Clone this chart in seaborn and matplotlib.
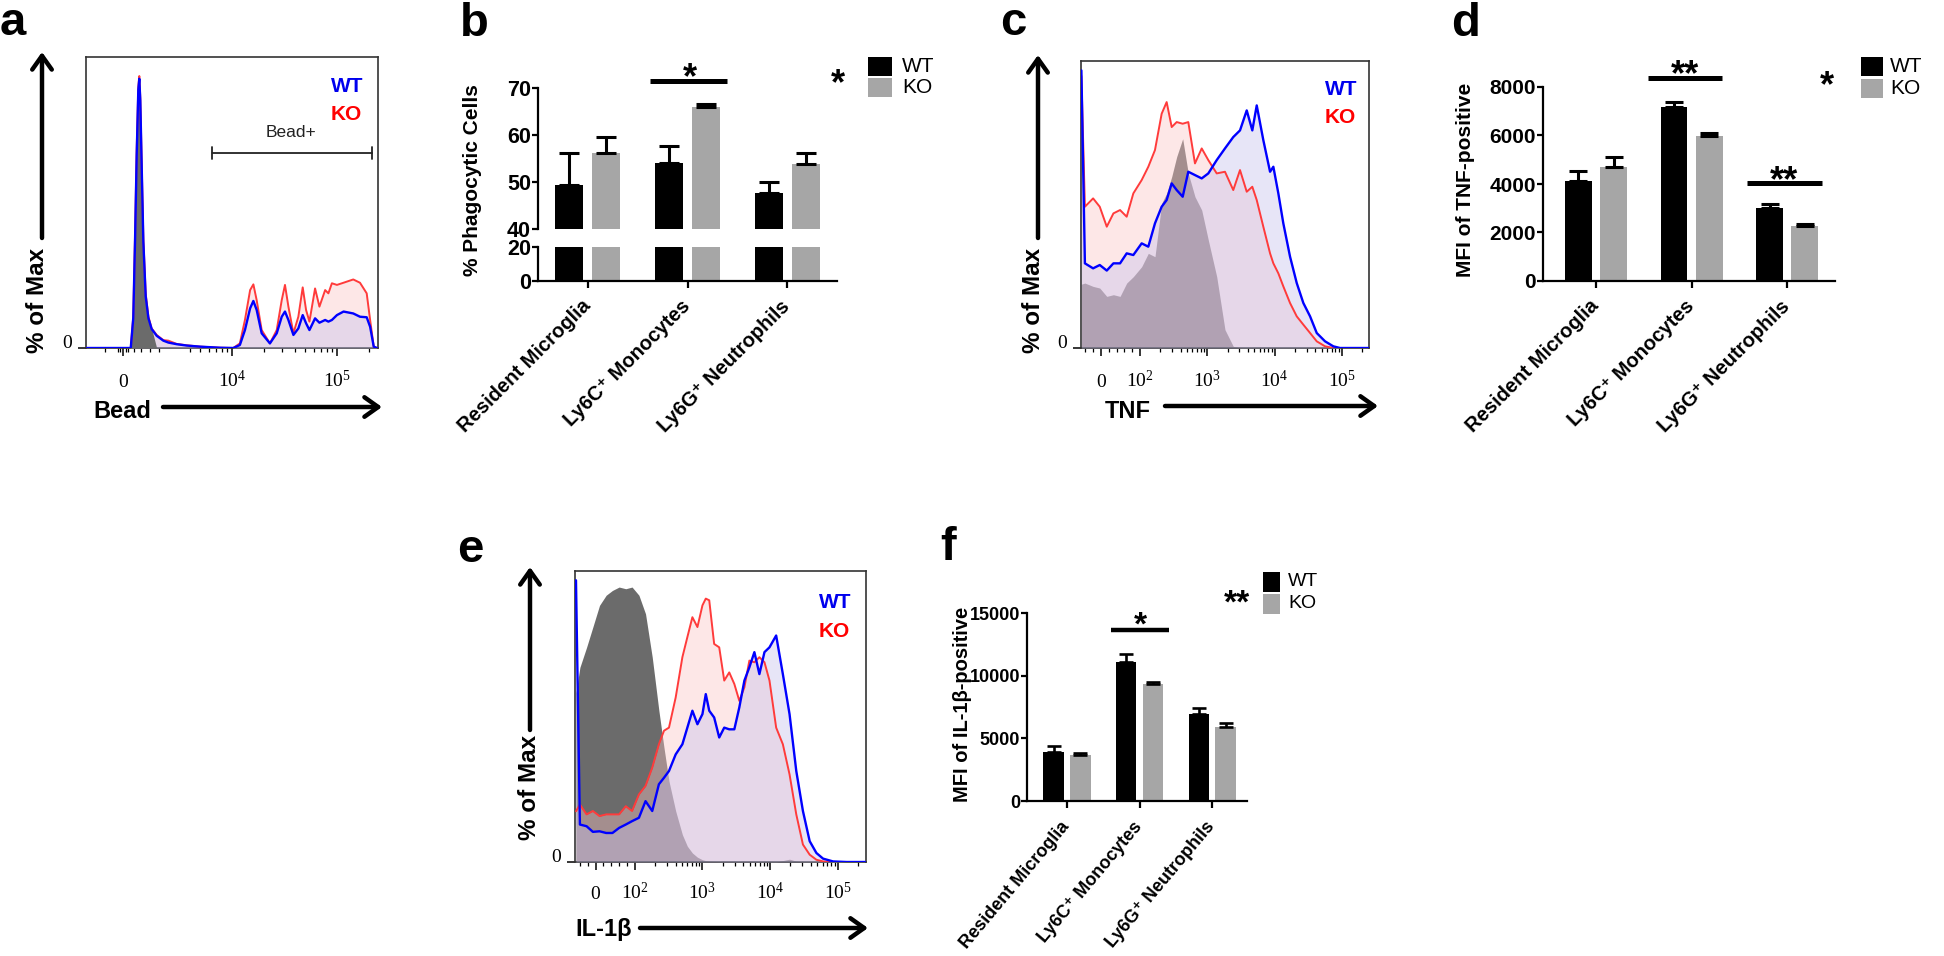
import numpy as np
import pandas as pd
import matplotlib
matplotlib.use('Agg')
import matplotlib.pyplot as plt
import seaborn as sns
from matplotlib.patches import Rectangle, FancyArrowPatch
from matplotlib.ticker import FixedLocator, NullFormatter, NullLocator

# ---------------- data: bar charts ----------------
cells = ['Resident Microglia', 'Ly6C\u207a Monocytes', 'Ly6G\u207a Neutrophils']
genotypes = ['WT', 'KO']

phago_wt = [49.4, 54.0, 47.7]
phago_wt_sem = [6.8, 3.7, 2.4]
phago_ko = [56.2, 65.9, 53.8]
phago_ko_sem = [3.4, 0.7, 2.4]

tnf_wt = [4120, 7190, 3020]
tnf_wt_sem = [400, 180, 150]
tnf_ko = [4690, 5980, 2280]
tnf_ko_sem = [440, 140, 55]

il1b_wt = [3930, 11070, 6920]
il1b_wt_sem = [480, 660, 530]
il1b_ko = [3670, 9340, 5930]
il1b_ko_sem = [185, 180, 270]

# ---------------- data: flow histograms (% of Max) ----------------
bead_x = [-2000, 200, 430, 570, 670, 760, 850, 905, 960, 1040, 1130, 1260, 1410, 1590, 1870,
          2240, 2520, 2980, 3710, 4970, 7700, 10300, 11900, 13300, 14900, 16000, 17200, 19200,
          23000, 26700, 29800, 32000, 34500, 38500, 42900, 47200, 50800, 54700, 61900, 68100,
          77200, 82900, 89500, 100000, 115600, 143000, 165700, 192000, 207000, 224000, 240000]
bead_ko = [0, 0, 0, 11.5, 42, 73, 96, 100, 92, 67, 40, 20, 11.5, 7.2, 4.8, 2.9, 2.7, 1.5, 1.0, 0.5,
           0.1, 0, 1.7, 10.3, 21.3, 23.4, 17.6, 6.6, 1.7, 6.6, 17.6, 23.2, 15.2, 5.4, 11.5, 22.3,
           14, 9.7, 21.9, 15.2, 21.3, 20.1, 23.8, 23.2, 24, 25.2, 24, 20.1, 10.3, 0.5, 0]
bead_wt = [0, 0, 0, 11, 40, 71, 95, 99, 91, 66, 39, 19, 11, 7, 4.5, 2.7, 2.0, 1.4, 0.9, 0.5,
           0.1, 0, 1.1, 6.6, 14.6, 17.3, 14, 5.4, 1.7, 5.4, 11.5, 13.4, 10.3, 4.8, 7.2, 12.1,
           9.1, 6.6, 10.9, 9.3, 10.3, 9.7, 10.3, 12.1, 13.4, 12.7, 11.5, 11.3, 7.8, 0.5, 0]
bead_ctrl = [0, 0, 0, 11.5, 42, 73, 96, 100, 92, 67, 40, 20, 11.5, 7.2, 0, 0, 0, 0, 0, 0,
             0, 0, 0, 0, 0, 0, 0, 0, 0, 0, 0, 0, 0, 0, 0, 0,
             0, 0, 0, 0, 0, 0, 0, 0, 0, 0, 0, 0, 0, 0, 0]
bead_gate = [6500, 216000]

tnf_x = [-50, -41, -20, -3, 15, 32, 49, 66, 83, 106, 133, 167, 210, 249, 296, 351, 431, 522,
         656, 826, 1035, 1380, 1830, 2430, 3060, 3850, 4660, 5420, 6790, 8550, 9570, 11350,
         13460, 16940, 21290, 26700, 33600, 42200, 56100, 74500, 93700, 131900, 246700]
tnf_wt_hist = [100, 30.5, 28.7, 29.9, 27.9, 30.5, 30.5, 34.1, 33.5, 37.7, 36.5, 44.9, 50.9,
               53.3, 59.3, 56.9, 54.5, 63.5, 62.3, 61.1, 62.9, 67.7, 71.9, 76, 78.4, 85.6, 78.4,
               87.4, 74.9, 63.5, 65.3, 55.7, 44.9, 32.9, 23.4, 16.2, 11.4, 5.4, 2.4, 0.6, 0, 0, 0]
tnf_ko_hist = [98, 50.9, 53.9, 50.9, 43.7, 48.5, 49.7, 47.3, 55.7, 60.5, 65.3, 71.3, 84.4,
               88.6, 79.6, 81.4, 80.8, 81.4, 66.5, 71.9, 67.7, 62.9, 63.5, 56.9, 64.1, 56.3, 58.1,
               53.3, 43.7, 34.1, 30.5, 26.9, 22.2, 16.2, 11.4, 8.4, 5.4, 2.4, 0.6, 0, 0, 0, 0]
tnf_ctrl_hist = [23, 23.4, 22.2, 21.6, 18.6, 19.2, 18.6, 23.4, 25.7, 29.3, 34.1, 32.9, 52.1,
                 55.7, 61.7, 68.9, 75.4, 62.9, 54.5, 49.7, 38.9, 25.7, 6.6, 0.6, 0, 0, 0, 0, 0,
                 0, 0, 0, 0, 0, 0, 0, 0, 0, 0, 0, 0, 0, 0]

il1b_x = [-50, -40, -23, -7, 10, 27, 43, 60, 77, 93, 115, 144, 181, 227, 270, 320, 402, 505,
          598, 710, 843, 1000, 1120, 1260, 1490, 1770, 2100, 2490, 2960, 3510, 4170, 4940, 5860,
          6950, 8260, 9800, 12300, 15450, 19400, 24400, 30600, 38500, 48400, 60700, 85500,
          135200, 252900]
il1b_wt_hist = [100, 13.3, 12.7, 10.7, 10.9, 10.3, 10.3, 12.1, 13.3, 14.5, 15.7, 21.6, 18.1,
                27.6, 29.9, 32.3, 38.2, 41.8, 47.7, 53.7, 48.9, 52.5, 59.6, 53.7, 51.3, 44.2, 47.7,
                47.1, 47.1, 54.9, 64.4, 69.1, 74.5, 66.7, 74.5, 76.2, 80.4, 66.7, 52.5, 32.3, 18.1,
                7.4, 3.2, 1.2, 0.2, 0, 0]
il1b_ko_hist = [18, 20.4, 16.9, 18.1, 16.3, 16.9, 16.9, 16.9, 19.8, 18.1, 24, 27, 33.5, 41.8,
                46.6, 47.7, 58.4, 72.7, 79.8, 86.9, 83.4, 91.1, 93.5, 92.9, 77.4, 76.2, 64.4, 67.3,
                63.2, 57.2, 62, 71.5, 70.9, 72.7, 70.9, 64.4, 47.7, 41.8, 31.1, 16.9, 6.2, 2.6, 0.8,
                0.2, 0, 0, 0]
il1b_ctrl_hist = [60, 69.1, 76.2, 83.4, 91.1, 94.7, 96.4, 97.6, 97, 97.6, 94.7, 88.1, 72.7, 53.7,
                  40.6, 28.7, 18.1, 9.7, 5.6, 3.2, 1.7, 0.8, 0.5, 0.3, 0.2, 0.1, 0, 0, 0, 0, 0,
                  0, 0, 0, 0, 0, 0, 0.5, 1.0, 0.3, 0, 0, 0, 0, 0, 0, 0]

ticks_a = [0, 1e4, 1e5]
ticklabels_a = ['0', r'$\mathdefault{10^{4}}$', r'$\mathdefault{10^{5}}$']
ticks_ce = [0, 1e2, 1e3, 1e4, 1e5]
ticklabels_ce = ['0', r'$\mathdefault{10^{2}}$', r'$\mathdefault{10^{3}}$',
                 r'$\mathdefault{10^{4}}$', r'$\mathdefault{10^{5}}$']

# ---------------- style ----------------
sns.set_theme(style='ticks', rc={'axes.edgecolor': 'black', 'xtick.color': 'black',
                                 'ytick.color': 'black', 'text.color': 'black',
                                 'axes.labelcolor': 'black'})
plt.rcParams['font.family'] = ['Liberation Sans', 'DejaVu Sans']

WT_BAR, KO_BAR = '#000000', '#a6a6a6'
WT_LINE, KO_LINE = '#0000ff', '#ff3b3b'
WT_FILL, KO_FILL = '#c5c0ed', '#fac5c5'
FILL_ALPHA = 0.4
CTRL_GREY = '#6b6b6b'

W, H = 1944, 956
fig = plt.figure(figsize=(W / 100, H / 100), dpi=100)
fig.patch.set_facecolor('white')


def box(l, t, r, b):
    return [l / W, 1 - b / H, (r - l) / W, (b - t) / H]


def P(x, y):
    return (x / W, 1 - y / H)


def ftext(x, y, s, **kw):
    fig.text(x / W, 1 - y / H, s, **kw)


def farrow(x0, y0, x1, y1):
    fig.add_artist(FancyArrowPatch(P(x0, y0), P(x1, y1), transform=fig.transFigure,
                                   arrowstyle='->,head_length=0.45,head_width=0.32',
                                   mutation_scale=22, lw=3.2, color='black',
                                   shrinkA=0, shrinkB=0))


def flow_panel(rect, x, ctrl, wt, ko, linthresh, linscale, xlim, ytop, ticks, ticklabels,
               minors, ctrl_on_top, label_pad):
    ax = fig.add_axes(box(*rect))
    ax.set_xscale('symlog', linthresh=linthresh, linscale=linscale)
    ax.fill_between(x, 0, ctrl, color=CTRL_GREY, lw=0, zorder=3.5 if ctrl_on_top else 1)
    ax.fill_between(x, 0, ko, color=KO_FILL, alpha=FILL_ALPHA, lw=0, zorder=2)
    ax.fill_between(x, 0, wt, color=WT_FILL, alpha=FILL_ALPHA, lw=0, zorder=3)
    sns.lineplot(x=x, y=ko, ax=ax, color=KO_LINE, lw=1.4, estimator=None, sort=False, zorder=4)
    sns.lineplot(x=x, y=wt, ax=ax, color=WT_LINE, lw=1.7, estimator=None, sort=False, zorder=5)
    ax.set_xlim(*xlim)
    ax.set_ylim(0, ytop)
    ax.set_xticks(ticks)
    ax.set_xticklabels(ticklabels, fontfamily='Liberation Serif', fontsize=14, va='baseline')
    ax.xaxis.set_minor_locator(FixedLocator(minors))
    ax.xaxis.set_minor_formatter(NullFormatter())
    ax.set_yticks([0])
    ax.set_yticklabels(['0'], fontfamily='Liberation Serif', fontsize=14, va='baseline')
    ax.yaxis.set_minor_locator(NullLocator())
    ax.tick_params(axis='x', which='major', length=6, width=1.1, pad=label_pad, direction='out')
    ax.tick_params(axis='x', which='minor', length=3, width=0.9, direction='out')
    ax.tick_params(axis='y', which='major', length=6, width=1.1, pad=4, direction='out')
    for s in ax.spines.values():
        s.set_linewidth(1.2)
        s.set_color('#333333')
    ax.set_xlabel('')
    ax.set_ylabel('')
    return ax


minors_a = [-1000, -300, -150, 150, 300, 600, 1000, 1500, 2000] + \
    [k * 10 ** d for d in (3, 4) for k in range(2, 10) if k * 10 ** d > 3000] + [2e5]
minors_ce = [-40, -20, 20, 40, 60, 80] + \
    [k * 10 ** d for d in (2, 3, 4) for k in range(2, 10)] + [2e5]

# ---------------- panel a ----------------
ax_a = flow_panel((86, 57, 378, 348), bead_x, bead_ctrl, bead_wt, bead_ko, 3000, 0.463,
                  (-2055, 2.46e5), 107, ticks_a, ticklabels_a, minors_a, True, 22)
ax_a.annotate('', xy=(bead_gate[0], 71.7), xytext=(bead_gate[1], 71.7),
              arrowprops=dict(arrowstyle='|-|,widthA=0.35,widthB=0.35', lw=1.3, color='#222222',
                              shrinkA=0, shrinkB=0))
ax_a.text(36500, 79.4, 'Bead+', ha='center', va='center', fontsize=12.5, color='#222222')

# ---------------- panel c ----------------
ax_c = flow_panel((1081, 61, 1369, 348), tnf_x, tnf_ctrl_hist, tnf_wt_hist, tnf_ko_hist, 100,
                  0.522, (-51, 2.52e5), 103.4, ticks_ce, ticklabels_ce, minors_ce, False, 22)

# ---------------- panel e ----------------
ax_e = flow_panel((575, 571, 866, 862), il1b_x, il1b_ctrl_hist, il1b_wt_hist, il1b_ko_hist, 100,
                  0.522, (-52.5, 2.62e5), 103.3, ticks_ce, ticklabels_ce, minors_ce, False, 20.5)

# flow annotations
for (xl, yc, ax0, ay0, ay1) in [(38, 300, 42, 238, 52), (1033, 300, 1038, 238, 55),
                                (529, 787, 530, 730, 567)]:
    ftext(xl, yc, '% of Max', rotation=90, ha='center', va='center', fontsize=17.5,
          fontweight='bold')
    farrow(ax0, ay0, ax0, ay1)
for (xl, yb, label, x0, x1, ya) in [(93, 418, 'Bead', 163, 382, 407),
                                    (1105, 418, 'TNF', 1165, 1378, 406),
                                    (575, 936, 'IL-1\u03b2', 640, 868, 928)]:
    ftext(xl, yb, label, ha='left', va='baseline', fontsize=17, fontweight='bold')
    farrow(x0, ya, x1, ya)
for (xl, yb1, yb2) in [(331, 92, 120), (1325, 95, 123), (819, 608, 637)]:
    ftext(xl, yb1, 'WT', ha='left', va='baseline', fontsize=15, fontweight='bold', color='#0000ee')
    ftext(xl, yb2, 'KO', ha='left', va='baseline', fontsize=15, fontweight='bold', color='#ff0000')


# ---------------- bar panels ----------------
def bar_panel(ax, wt, wt_sem, ko, ko_sem, capsize, elw, draw_err=True):
    df = pd.DataFrame({'cell': cells + cells,
                       'genotype': ['WT'] * 3 + ['KO'] * 3,
                       'value': wt + ko})
    sns.barplot(data=df, x='cell', y='value', hue='genotype', order=cells, hue_order=genotypes,
                palette={'WT': WT_BAR, 'KO': KO_BAR}, saturation=1, width=0.74, gap=0.24,
                errorbar=None, legend=False, linewidth=0, ax=ax)
    if draw_err:
        bars = sorted(ax.patches, key=lambda p: p.get_x())
        sems = [s for pair in zip(wt_sem, ko_sem) for s in pair]
        for p, s in zip(bars, sems):
            ax.errorbar(p.get_x() + p.get_width() / 2, p.get_height(), yerr=[[0], [s]],
                        fmt='none', ecolor='black', elinewidth=elw, capsize=capsize,
                        capthick=elw, zorder=3)
    ax.set_xlabel('')
    ax.set_ylabel('')
    for s in ['top', 'right']:
        ax.spines[s].set_visible(False)
    for s in ['left', 'bottom']:
        ax.spines[s].set_linewidth(1.6)
        ax.spines[s].set_color('black')


def set_yt(ax, ticks, fs):
    ax.set_yticks(ticks)
    ax.set_yticklabels([str(t) for t in ticks], fontsize=fs, fontweight='bold')
    ax.tick_params(axis='y', length=4, width=1.6, pad=1, direction='out')


def set_xt(ax, fs, rot, pad):
    ax.set_xticks(range(len(cells)))
    ax.set_xticklabels(cells, rotation=rot, ha='right', va='center', rotation_mode='anchor',
                       fontsize=fs, fontweight='bold')
    ax.tick_params(axis='x', length=5, width=1.6, pad=pad, direction='out')


def legend_box(x, y_top, w, h, gap, tx, fs):
    for i, (g, c) in enumerate([('WT', WT_BAR), ('KO', KO_BAR)]):
        y0 = y_top + i * (h + gap)
        fig.add_artist(Rectangle(P(x, y0 + h), w / W, h / H, transform=fig.transFigure,
                                 facecolor=c, edgecolor='none'))
        ftext(tx, y0 + h / 2, g, ha='left', va='center', fontsize=fs)


def star(x, y_center, s, fs=26):
    ftext(x, y_center + 0.58 * fs * 100 / 72, s, ha='center', va='baseline', fontsize=fs,
          fontweight='bold')


# panel b (broken axis)
ax_bt = fig.add_axes(box(538, 88, 837, 229))
ax_bb = fig.add_axes(box(538, 247, 837, 281))
bar_panel(ax_bt, phago_wt, phago_wt_sem, phago_ko, phago_ko_sem, 7.5, 2.2)
bar_panel(ax_bb, phago_wt, phago_wt_sem, phago_ko, phago_ko_sem, 7.5, 2.2, draw_err=False)
ax_bt.set_ylim(40, 70)
ax_bb.set_ylim(0, 20)
for a in (ax_bt, ax_bb):
    a.set_xlim(-0.5, 2.5)
set_yt(ax_bt, [40, 50, 60, 70], 15.5)
set_yt(ax_bb, [0, 20], 15.5)
ax_bt.spines['bottom'].set_visible(False)
ax_bt.tick_params(axis='x', bottom=False, labelbottom=False)
set_xt(ax_bb, 14.5, 45, 11)
ax_bt.plot([0.62, 1.40], [71.5, 71.5], color='black', lw=3.6, clip_on=False,
           solid_capstyle='butt')
star(690, 67, '*')
star(838, 73, '*')
legend_box(868, 57, 24, 18.5, 3, 902, 15)
ftext(472, 180, '% Phagocytic Cells', rotation=90, ha='center', va='center', fontsize=15,
      fontweight='bold')

# panel d
ax_d = fig.add_axes(box(1543, 87, 1835, 281))
bar_panel(ax_d, tnf_wt, tnf_wt_sem, tnf_ko, tnf_ko_sem, 6.8, 2.2)
ax_d.set_ylim(0, 8000)
ax_d.set_xlim(-0.555, 2.5)
set_yt(ax_d, [0, 2000, 4000, 6000, 8000], 15)
set_xt(ax_d, 14.5, 45, 11)
ax_d.plot([0.54, 1.32], [8380, 8380], color='black', lw=3.6, clip_on=False, solid_capstyle='butt')
ax_d.plot([1.58, 2.36], [4050, 4050], color='black', lw=3.6, clip_on=False, solid_capstyle='butt')
star(1685, 64, '**')
star(1784, 170, '**')
star(1827, 75, '*')
legend_box(1861, 57, 22, 19, 3, 1890, 15)
ftext(1465, 180, 'MFI of TNF-positive', rotation=90, ha='center', va='center', fontsize=15,
      fontweight='bold')

# panel f
ax_f = fig.add_axes(box(1027, 613, 1247, 801))
bar_panel(ax_f, il1b_wt, il1b_wt_sem, il1b_ko, il1b_ko_sem, 4.7, 1.9)
ax_f.set_ylim(0, 15000)
ax_f.set_xlim(-0.55, 2.48)
set_yt(ax_f, [0, 5000, 10000, 15000], 13)
set_xt(ax_f, 13, 50, 11.5)
ax_f.plot([0.61, 1.40], [13650, 13650], color='black', lw=3.2, clip_on=False,
          solid_capstyle='butt')
star(1140, 615, '*', 24)
star(1237, 593, '**', 24)
legend_box(1263, 572, 17, 19.5, 2.5, 1288, 14)
ftext(962, 704, 'MFI of IL-1\u03b2-positive', rotation=90, ha='center', va='center',
      fontsize=14.5, fontweight='bold')

# panel letters
for (x, y, s) in [(0, 35, 'a'), (460, 36, 'b'), (1000, 35, 'c'), (1451, 36, 'd'),
                  (457, 562, 'e'), (940, 560, 'f')]:
    ftext(x, y, s, ha='left', va='baseline', fontsize=34, fontweight='bold')

fig.savefig('out.png', dpi=100, facecolor='white')
